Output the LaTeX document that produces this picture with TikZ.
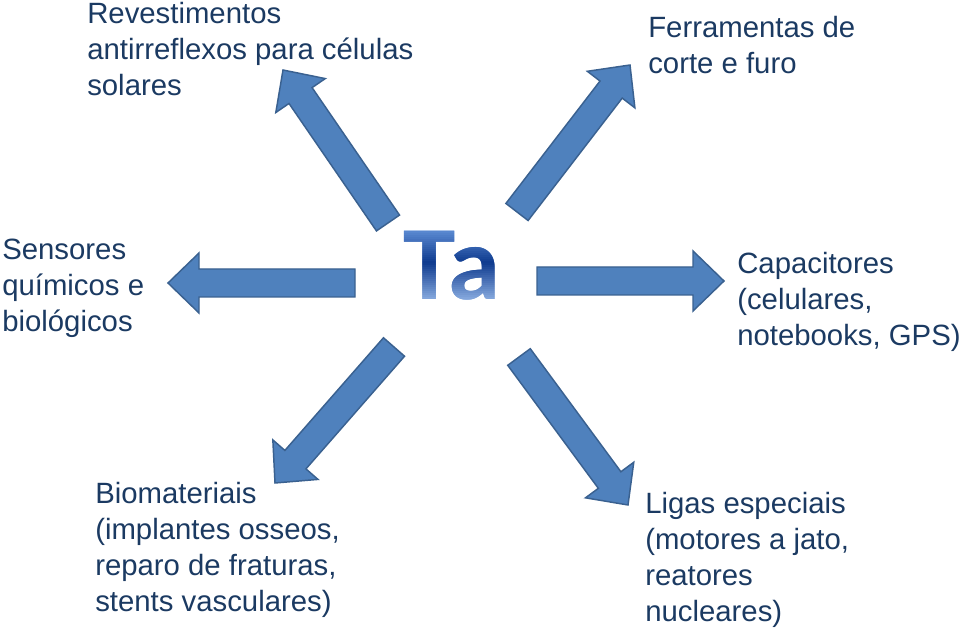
\documentclass[tikz,border=0pt]{standalone}
\usepackage{fontspec}
\setmainfont{Liberation Sans}
\newfontfamily\tafont{Carlito}[BoldFont=Carlito Bold]
\usetikzlibrary{calc}
\definecolor{arrowfill}{HTML}{4F81BD}
\definecolor{arrowline}{HTML}{3A6190}
\definecolor{labeltext}{HTML}{1B3A62}
\definecolor{taLight}{HTML}{6493DA}
\definecolor{taDark}{HTML}{0E3A8E}
\definecolor{taBottom}{HTML}{92B4E6}
\newcommand{\blockarrow}[2]{%
  \draw[blockarrowstyle]
    ($(#1)!10.5pt!90:(#2)$) --
    ($($(#2)!23.25pt!(#1)$)!10.5pt!90:(#2)$) --
    ($($(#2)!23.25pt!(#1)$)!22.5pt!90:(#2)$) --
    (#2) --
    ($($(#2)!23.25pt!(#1)$)!22.5pt!-90:(#2)$) --
    ($($(#2)!23.25pt!(#1)$)!10.5pt!-90:(#2)$) --
    ($(#1)!10.5pt!-90:(#2)$) -- cycle;}
\begin{document}
\begin{tikzpicture}[x=0.75pt, y=-0.75pt,
  blockarrowstyle/.style={fill=arrowfill, draw=arrowline, line width=1.1pt, line join=miter},
  tatext/.style={anchor=base, inner sep=0pt, font=\tafont\bfseries\fontsize{79}{80}\selectfont},
  label/.style={anchor=north west, inner sep=0pt, align=left, text=labeltext,
    font=\fontsize{22}{27}\selectfont}]
\useasboundingbox (0,0) rectangle (963,630);
% centre: "Ta" with a vertical gradient, drawn in thin clipped strips
\coordinate (taBase) at (452,300);
\foreach \i in {0,...,37}{
  \pgfmathsetmacro{\ytop}{228+2*\i}
  \pgfmathsetmacro{\ybot}{\ytop+2.6}
  \pgfmathsetmacro{\tt}{(\ytop+1-228)/76}
  \pgfmathparse{\tt<0.47 ? 1 : 0}
  \ifnum\pgfmathresult=1
    \pgfmathsetmacro{\pc}{min(100,max(0,\tt/0.47*100))}
    \colorlet{stripcol}{taDark!\pc!taLight}
  \else
    \pgfmathsetmacro{\pc}{min(100,max(0,(1-\tt)/0.53*100))}
    \colorlet{stripcol}{taDark!\pc!taBottom}
  \fi
  \begin{scope}
    \clip (395,\ytop) rectangle (515,\ybot);
    \node[tatext, text=stripcol] (ta\i) at (taBase) {Ta};
  \end{scope}
}
% arrow ends
\coordinate (tlT) at (388,223); \coordinate (tlP) at (283,70);
\coordinate (trT) at (517,212); \coordinate (trP) at (630,65);
\coordinate (lT) at (355,283);  \coordinate (lP) at (168,283);
\coordinate (rT) at (537,281);  \coordinate (rP) at (724,281);
\coordinate (blT) at (394,347); \coordinate (blP) at (275,483);
\coordinate (brT) at (519,357); \coordinate (brP) at (628,505);
\blockarrow{tlT}{tlP}
\blockarrow{trT}{trP}
\blockarrow{lT}{lP}
\blockarrow{rT}{rP}
\blockarrow{blT}{blP}
\blockarrow{brT}{brP}
% labels
\node[label] (rev) at (87,2) {Revestimentos\\antirreflexos para células\\solares};
\node[label] (fer) at (648,16) {Ferramentas de\\corte e furo};
\node[label] (sen) at (2,239) {Sensores\\químicos e\\biológicos};
\node[label] (cap) at (737,252) {Capacitores\\(celulares,\\notebooks, GPS)};
\node[label] (bio) at (95,482) {Biomateriais\\(implantes osseos,\\reparo de fraturas,\\stents vasculares)};
\node[label] (lig) at (645,492) {Ligas especiais\\(motores a jato,\\reatores\\nucleares)};
\end{tikzpicture}
\end{document}
